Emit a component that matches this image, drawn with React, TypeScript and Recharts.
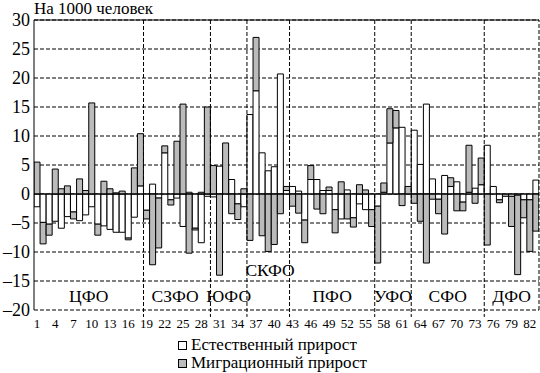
import React from 'react';
import { BarChart, Bar, XAxis, YAxis, CartesianGrid, ReferenceLine, ReferenceDot, Legend } from 'recharts';

const FONT = '"Liberation Serif", "DejaVu Serif", serif';

// regions 1..83, values per 1000 people
const natural = [
  -2.2, -4.9, -5.2, -4.7, -5.9, -3.9, -3.1, -4.6, -3.6, -2.2,
  -5.2, -5.5, -6.1, -6.6, -6.6, -7.6, -4.0, 1.4,
  -2.8, 1.7, -0.7, 7.1, -1.0, -0.7, -5.6, 0.3, -5.9, -8.4, -0.4,
  -0.5, 4.8, 0, 2.5, -1.7, -2.2,
  13.7, 17.8, 7.1, 4.0, 4.7, 20.7, 0.6,
  1.3, 0.5, -4.5, 2.5, 2.5, 0.6, 0.6, -2.7, -4.3, 0.7, -4.1, -1.7, -2.7, -2.7,
  -2.1, 0.3, 8.8, 11.4, 11.5, 0,
  11.0, 5.1, 15.5, 2.6, -0.9, 3.2, 1.3, 2.1, -1.4, 0.3, 1.0, 1.6,
  8.4, 1.3, -1.0, 0, -0.4, -0.2, -1.0, -1.0, 2.4,
];

const migration = [
  5.5, -3.7, -1.9, 4.3, 0.9, 1.4, -1.2, 2.6, 0.6, 15.7,
  -1.9, 2.2, 0.9, 0.2, 0.5, -0.3, 4.5, 9.0,
  -1.5, -12.2, -8.6, 1.2, -0.9, 9.1, 15.5, -10.2, -0.3, 0.3, 15.0,
  4.9, -14.0, 8.8, -3.4, -2.7, 0.9,
  -8.0, 9.2, -7.2, -9.9, -8.7, -3.4, 0.7,
  -2.1, -3.3, -3.9, 2.4, -2.6, -3.4, 0.6, -4.0, 2.1, -4.3, -1.6, 1.6, 0.7, -2.9,
  -9.8, 1.6, 5.9, 3.0, -2.0, 1.3,
  -1.6, -4.7, -11.9, -0.9, -2.5, -6.9, 1.5, -2.9, -1.5, 8.1, -1.6, 4.6,
  -8.8, 0, -0.5, -0.4, -5.2, -13.7, -3.1, -8.9, -6.4,
];

const districts = ['ЦФО', 'СЗФО', 'ЮФО', 'СКФО', 'ПФО', 'УФО', 'СФО', 'ДФО'];
const districtSizes = [18, 11, 6, 7, 14, 6, 12, 9];

const xTicks = [1, 4, 7, 10, 13, 16, 19, 22, 25, 28, 31, 34, 37, 40, 43, 46, 49, 52, 55, 58, 61, 64, 67, 70, 73, 76, 79, 82];
const yTicks = [-20, -15, -10, -5, 0, 5, 10, 15, 20, 25, 30];

const data = natural.map((v, i) => ({ id: i + 1, natural: v, migration: migration[i] }));

// district boundaries and label centres
let acc = 0;
const groups = districtSizes.map((n, i) => {
  const start = acc;
  acc += n;
  return { name: districts[i], center: start + (n + 1) / 2, end: acc + 0.5 };
});
const boundaries = groups.slice(0, -1).map((g) => g.end);

const GRAY = '#bbbbbb';

const XTick = (props: any) => {
  const { x, y, payload } = props;
  return (
    <text x={x} y={y} dy={9.5} textAnchor="middle" fontSize={13} style={{ fontFamily: FONT }} fill="#000">
      {payload.value}
    </text>
  );
};

const fmtY = (v: number) => (v < 0 ? '–' + Math.abs(v) : String(v));

const renderLegend = () => (
  <div style={{ fontFamily: FONT, fontSize: 17, lineHeight: '18px', color: '#000', whiteSpace: 'nowrap' }}>
    <div>
      <span style={{ display: 'inline-block', width: 7, height: 7, border: '1px solid #000', background: '#fff', marginRight: 4 }} />
      Естественный прирост
    </div>
    <div>
      <span style={{ display: 'inline-block', width: 7, height: 7, border: '1px solid #000', background: GRAY, marginRight: 4 }} />
      Миграционный прирост
    </div>
  </div>
);

export default function App() {
  return (
    <div style={{ position: 'absolute', left: 0, top: 0, width: 540, height: 373, background: '#fff', fontFamily: FONT }}>
      <div style={{ position: 'absolute', left: 34, top: 0, fontFamily: FONT, fontSize: 17, lineHeight: '18px' }}>
        На 1000 человек
      </div>
      <BarChart
        width={540}
        height={373}
        data={data}
        stackOffset="sign"
        barCategoryGap={0}
        margin={{ top: 20, right: 1, left: 0, bottom: 33 }}
        style={{ fontFamily: FONT }}
      >
        <CartesianGrid vertical={false} stroke="#000" strokeDasharray="4 2" />
        <XAxis
          dataKey="id"
          type="number"
          domain={[0.5, 83.5]}
          ticks={xTicks}
          interval={0}
          allowDataOverflow
          axisLine={false}
          tickLine={false}
          height={30}
          tick={<XTick />}
        />
        <YAxis
          domain={[-20, 30]}
          ticks={yTicks}
          interval={0}
          width={34}
          axisLine={{ stroke: '#000' }}
          tickLine={false}
          tickSize={2}
          tickMargin={2}
          tickFormatter={fmtY}
          tick={{ fontSize: 18, fill: '#000', style: { fontFamily: FONT } }}
        />
        <Bar dataKey="natural" stackId="a" fill="#fff" stroke="#000" strokeWidth={1} isAnimationActive={false} />
        <Bar dataKey="migration" stackId="a" fill={GRAY} stroke="#000" strokeWidth={1} isAnimationActive={false} />
        <ReferenceLine y={0} stroke="#000" />
        <ReferenceLine y={30} stroke="#000" />
        <ReferenceLine x={83.5} stroke="#000" strokeDasharray="4 2" />
        {boundaries.map((b) => (
          <ReferenceLine
            key={b}
            segment={[{ x: b, y: 30 }, { x: b, y: -21.2 }]}
            stroke="#000"
            strokeDasharray="4 2"
            ifOverflow="visible"
          />
        ))}
        {groups.map((g) => (
          <ReferenceDot
            key={g.name}
            x={g.name === 'СКФО' ? g.center + 0.3 : g.center - (g.name === 'СЗФО' ? 0.3 : 0)}
            y={g.name === 'СКФО' ? -13 : -17.6}
            r={0}
            fill="none"
            stroke="none"
            ifOverflow="visible"
            label={{ value: g.name, position: 'center', fontSize: 17.5, fill: '#000', style: { fontFamily: FONT } }}
          />
        ))}
        <Legend
          layout="vertical"
          verticalAlign="middle"
          align="center"
          content={renderLegend}
          wrapperStyle={{ left: 178, top: 336, width: 'auto' }}
        />
      </BarChart>
    </div>
  );
}
